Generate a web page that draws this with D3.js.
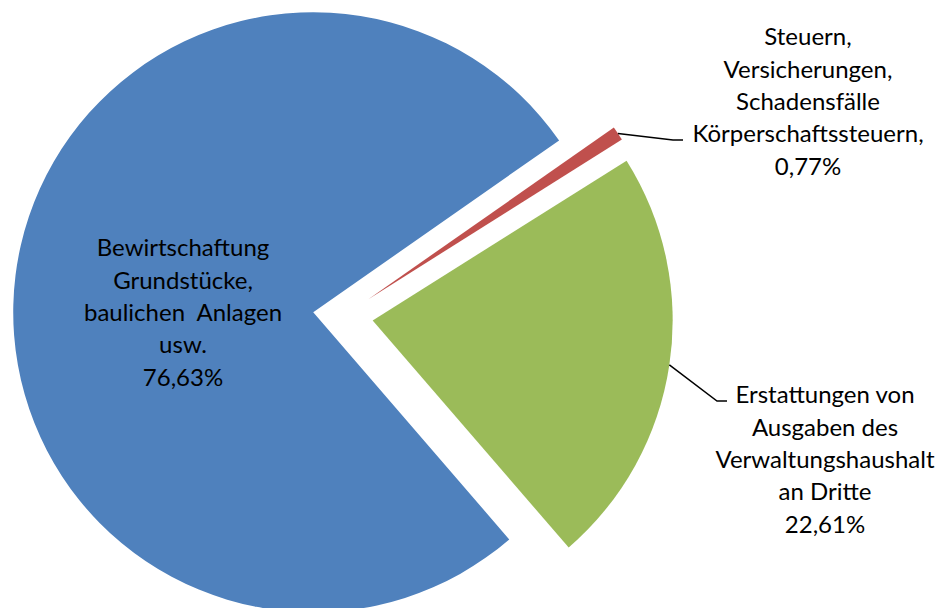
<!DOCTYPE html>
<html>
<head>
<meta charset="utf-8">
<script src="https://cdn.jsdelivr.net/npm/d3@7"></script>
<style>
  body { margin: 0; background: #fff; }
  svg text { font-family: Lato, "Open Sans", sans-serif; fill: #000; }
</style>
</head>
<body>
<div id="chart"></div>
<script>
// Daten
var names = ["Bewirtschaftung", "Steuern", "Erstattungen"];
var values = [76.63, 0.77, 22.61];
var labelLines = [
  ["Bewirtschaftung", "Grundstücke,", "baulichen  Anlagen", "usw.", "76,63%"],
  ["Steuern,", "Versicherungen,", "Schadensfälle", "Körperschaftssteuern,", "0,77%"],
  ["Erstattungen von", "Ausgaben des", "Verwaltungshaushalt", "an Dritte", "22,61%"]
];
var colors = ["#4F81BD", "#C0504D", "#9BBB59"];

var width = 949, height = 608,
    radius = 300,
    explode = 30,
    cx = 343, cy = 316,
    fontSize = 24, lineH = 32.3;

var svg = d3.select("#chart").append("svg")
    .attr("width", width)
    .attr("height", height);

var g = svg.append("g")
    .attr("transform", "translate(" + cx + "," + cy + ")");

// Startwinkel wie im Original (erste Scheibe beginnt bei ca. 139°)
var start = 139.2 * Math.PI / 180;
var pie = d3.pie()
    .sort(null)
    .startAngle(start)
    .endAngle(start + 2 * Math.PI)
    .value(function(d) { return d; });

var arc = d3.arc()
    .innerRadius(0)
    .outerRadius(radius);

var arcs = pie(values);

function offset(d, r) {
  var a = (d.startAngle + d.endAngle) / 2;
  return [Math.sin(a) * r, -Math.cos(a) * r];
}

var slices = g.selectAll(".slice")
    .data(arcs)
  .enter().append("g")
    .attr("class", "slice")
    .attr("transform", function(d) {
      var o = offset(d, explode);
      return "translate(" + o[0] + "," + o[1] + ")";
    });

slices.append("path")
    .attr("d", arc)
    .style("fill", function(d, i) { return colors[i]; });

// Beschriftungen (Position relativ zum Mittelpunkt, Zeile 1 Mitte)
var labelPos = [[-160, -68], [465, -279], [482, 79]];

var labels = g.selectAll(".lbl")
    .data(arcs)
  .enter().append("text")
    .attr("class", "lbl")
    .attr("text-anchor", "middle")
    .style("font-size", fontSize + "px")
    .attr("transform", function(d, i) {
      return "translate(" + labelPos[i][0] + "," + labelPos[i][1] + ")";
    });

labels.selectAll("tspan")
    .data(function(d, i) { return labelLines[i]; })
  .enter().append("tspan")
    .attr("x", 0)
    .attr("y", function(d, j) { return j * lineH; })
    .attr("dy", "0.35em")
    .style("white-space", "pre")
    .text(function(d) { return d; });

// Führungslinien für die zwei äußeren Beschriftungen
var leaders = [
  {i: 1, elbow: [330, -176], end: [340, -176]},
  {i: 2, elbow: [374, 85], end: [384, 85]}
];

g.selectAll(".leader")
    .data(leaders)
  .enter().append("path")
    .attr("class", "leader")
    .attr("d", function(l) {
      var d = arcs[l.i];
      var o = offset(d, explode);
      var p = offset(d, radius);
      return d3.line()([[o[0] + p[0], o[1] + p[1]], l.elbow, l.end]);
    })
    .style("fill", "none")
    .style("stroke", "#000")
    .style("stroke-width", 1.5);
</script>
</body>
</html>
